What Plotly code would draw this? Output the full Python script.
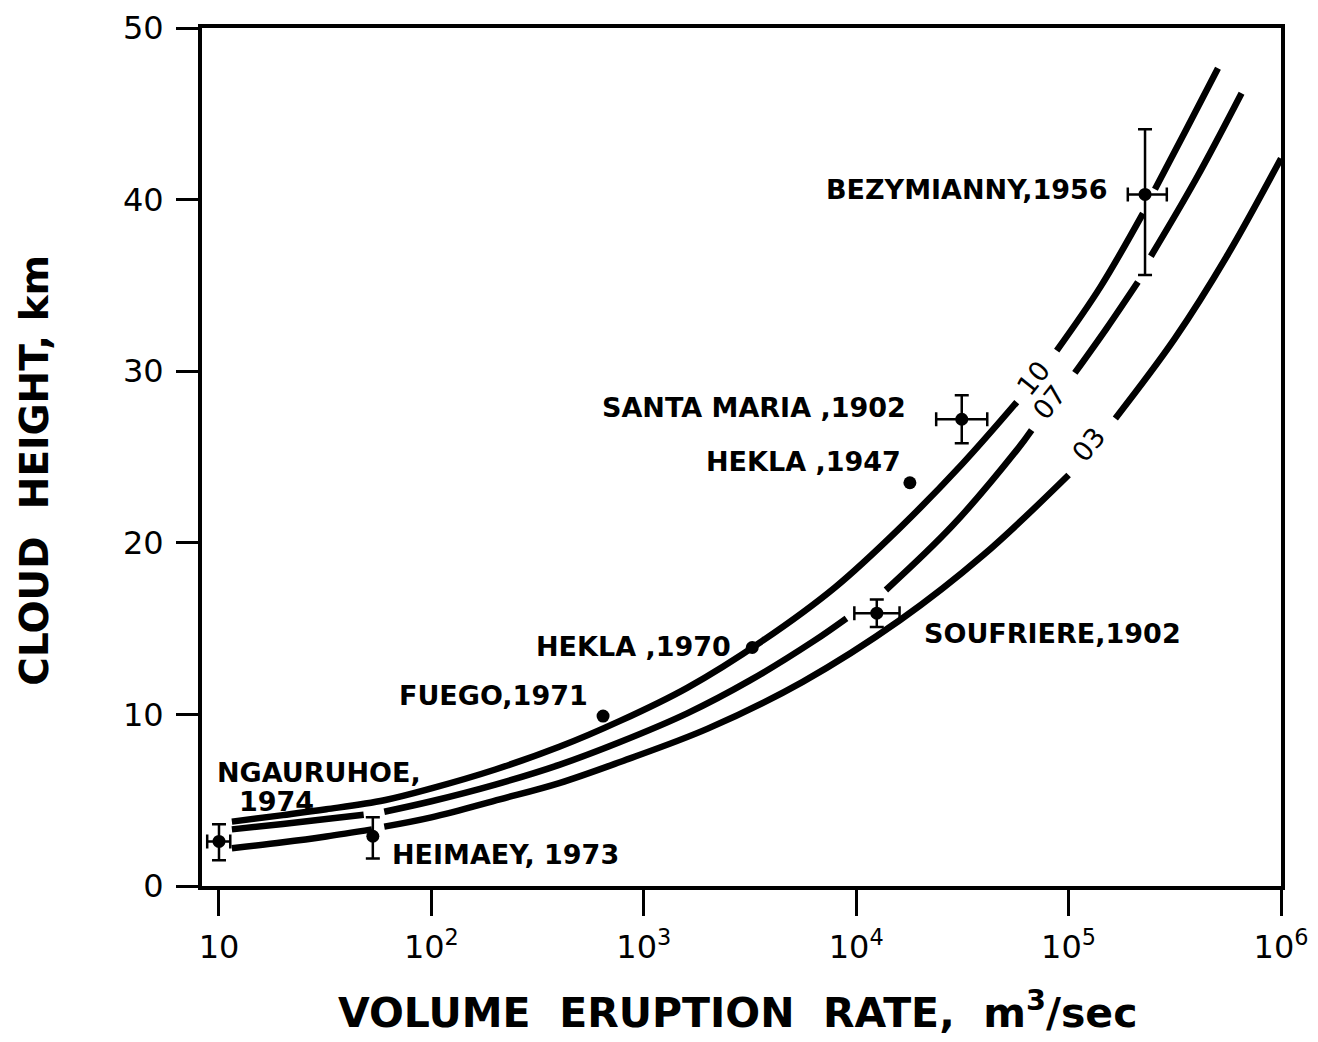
import plotly.graph_objects as go

# eruptions (volume eruption rate m3/s, cloud height km)
names = ["NGAURUHOE", "HEIMAEY", "FUEGO", "HEKLA 1970", "SOUFRIERE", "HEKLA 1947", "SANTA MARIA", "BEZYMIANNY"]
rate = [10, 53, 643, 3240, 12500, 17900, 31400, 229000]
height = [2.6, 2.9, 9.9, 13.9, 15.9, 23.5, 27.2, 40.3]
rate_lo = [8.8, None, None, None, 9800, None, 23800, 190000]
rate_hi = [11.3, None, None, None, 16000, None, 41400, 290000]
height_lo = [1.5, 1.6, None, None, 15.1, None, 25.8, 35.6]
height_hi = [3.6, 4.0, None, None, 16.7, None, 28.6, 44.1]

# theoretical curves (None = break in the drawn line)
curve10_x = [11.5, 20, 32, 60, 100, 200, 400, 773, 1600, 3630, 7940, 15850, 31600, 57000, None,
             87900, 141000, 224000, None, 255000, 355000, 505000]
curve10_y = [3.75, 4.13, 4.47, 5.0, 5.69, 6.79, 8.11, 9.62, 11.55, 14.3, 17.4, 20.8, 24.6, 28.2, None,
             31.2, 34.9, 39.2, None, 40.6, 44.0, 47.65]
curve07_x = [11.5, 20, 32, 48, None, 60, 100, 200, 400, 773, 1600, 3160, 6300, 9000, None,
             13800, 28200, 57000, 67000, None, 107000, 151000, 212000, None, 244000, 398000, 652000]
curve07_y = [3.3, 3.61, 3.9, 4.15, None, 4.33, 4.94, 5.91, 7.06, 8.39, 10.06, 11.98, 14.27, 15.6, None,
             17.25, 20.96, 25.4, 26.57, None, 29.9, 32.5, 35.2, None, 36.7, 41.2, 46.2]
curve03_x = [11.5, 20, 32, 52.5, None, 60, 100, 210, 400, 773, 2000, 5600, 16100, 39800, 100000, None,
             166000, 316000, 562000, 1000000]
curve03_y = [2.2, 2.55, 2.89, 3.3, None, 3.46, 4.0, 5.05, 6.0, 7.23, 9.17, 11.9, 15.5, 19.3, 23.95, None,
             27.25, 31.9, 36.8, 42.4]

x_ticks = [10, 100, 1000, 10000, 100000, 1000000]
x_ticktext = ["10", "10<sup>2</sup>", "10<sup>3</sup>", "10<sup>4</sup>", "10<sup>5</sup>", "10<sup>6</sup>"]
y_ticks = [0, 10, 20, 30, 40, 50]

FONT = "DejaVu Sans"

fig = go.Figure()

for cx, cy in [(curve10_x, curve10_y), (curve07_x, curve07_y), (curve03_x, curve03_y)]:
    fig.add_trace(go.Scatter(x=cx, y=cy, mode="lines", connectgaps=False,
                             line=dict(color="black", width=6.5, shape="spline", smoothing=1.0)))

# points with error bars in both directions
both = [0, 4, 6, 7]
fig.add_trace(go.Scatter(
    x=[rate[i] for i in both], y=[height[i] for i in both], mode="markers",
    marker=dict(color="black", size=13),
    error_x=dict(type="data", symmetric=False,
                 array=[rate_hi[i] - rate[i] for i in both],
                 arrayminus=[rate[i] - rate_lo[i] for i in both],
                 color="black", thickness=2.5, width=7),
    error_y=dict(type="data", symmetric=False,
                 array=[height_hi[i] - height[i] for i in both],
                 arrayminus=[height[i] - height_lo[i] for i in both],
                 color="black", thickness=2.5, width=7),
))
# Heimaey: vertical only
fig.add_trace(go.Scatter(
    x=[rate[1]], y=[height[1]], mode="markers", marker=dict(color="black", size=13),
    error_y=dict(type="data", symmetric=False, array=[height_hi[1] - height[1]],
                 arrayminus=[height[1] - height_lo[1]], color="black", thickness=2.5, width=7),
))
# plain dots
dots = [2, 3, 5]
fig.add_trace(go.Scatter(x=[rate[i] for i in dots], y=[height[i] for i in dots], mode="markers",
                         marker=dict(color="black", size=13)))

# point labels: (text, log10 x, y, anchor)
labels = [
    ("BEZYMIANNY,1956", 5.195, 40.56, "right"),
    ("SANTA MARIA ,1902", 4.244, 27.91, "right"),
    ("HEKLA ,1947", 4.220, 24.71, "right"),
    ("HEKLA ,1970", 3.420, 13.93, "right"),
    ("FUEGO,1971", 2.747, 11.13, "right"),
    ("SOUFRIERE,1902", 4.310, 14.74, "left"),
    ("NGAURUHOE,", 0.981, 6.59, "left"),
    ("1974", 1.085, 4.95, "left"),
    ("HEIMAEY, 1973", 1.805, 1.86, "left"),
]
for txt, lx, ly, anc in labels:
    fig.add_annotation(x=lx, y=ly, xref="x", yref="y", text=txt, showarrow=False,
                       xanchor=anc, yanchor="middle",
                       font=dict(family=FONT, size=27, color="black", weight="bold"))

# curve labels
for txt, lx, ly in [("10", 4.832, 29.6), ("07", 4.908, 28.2), ("03", 5.096, 25.7)]:
    fig.add_annotation(x=lx, y=ly, xref="x", yref="y", text=txt, showarrow=False,
                       textangle=-51, font=dict(family=FONT, size=27, color="black"))

# axis titles
fig.add_annotation(x=0.496, y=-0.145, xref="paper", yref="paper", showarrow=False,
                   text="VOLUME\u00a0\u00a0ERUPTION\u00a0\u00a0RATE,\u00a0\u00a0m<sup>3</sup>/sec",
                   xanchor="center", yanchor="middle",
                   font=dict(family=FONT, size=41, color="black", weight="bold"))
fig.add_annotation(x=-0.155, y=0.485, xref="paper", yref="paper", showarrow=False,
                   text="CLOUD\u00a0\u00a0HEIGHT,\u00a0km", textangle=-90,
                   xanchor="center", yanchor="middle",
                   font=dict(family=FONT, size=39, color="black", weight="bold"))

# page body has an 8px margin, so the figure is a bit smaller than the window
fig.update_layout(
    autosize=False, width=1302, height=1026,
    margin=dict(l=194, r=29, t=20, b=148),
    plot_bgcolor="white", paper_bgcolor="white",
    showlegend=False,
)
fig.update_xaxes(type="log", range=[0.92, 6.0], tickvals=x_ticks, ticktext=x_ticktext,
                 ticks="outside", ticklen=26, tickwidth=3, tickcolor="black",
                 showline=True, linewidth=4, linecolor="black", mirror=True,
                 showgrid=False, zeroline=False, ticklabelstandoff=4, automargin=False,
                 tickfont=dict(family=FONT, size=32, color="black"))
fig.update_yaxes(range=[0, 50], tickvals=y_ticks,
                 ticks="outside", ticklen=22, tickwidth=3, tickcolor="black",
                 showline=True, linewidth=4, linecolor="black", mirror=True,
                 showgrid=False, zeroline=False, ticklabelstandoff=6, automargin=False,
                 tickfont=dict(family=FONT, size=32, color="black"))

fig.write_html("out.html")
